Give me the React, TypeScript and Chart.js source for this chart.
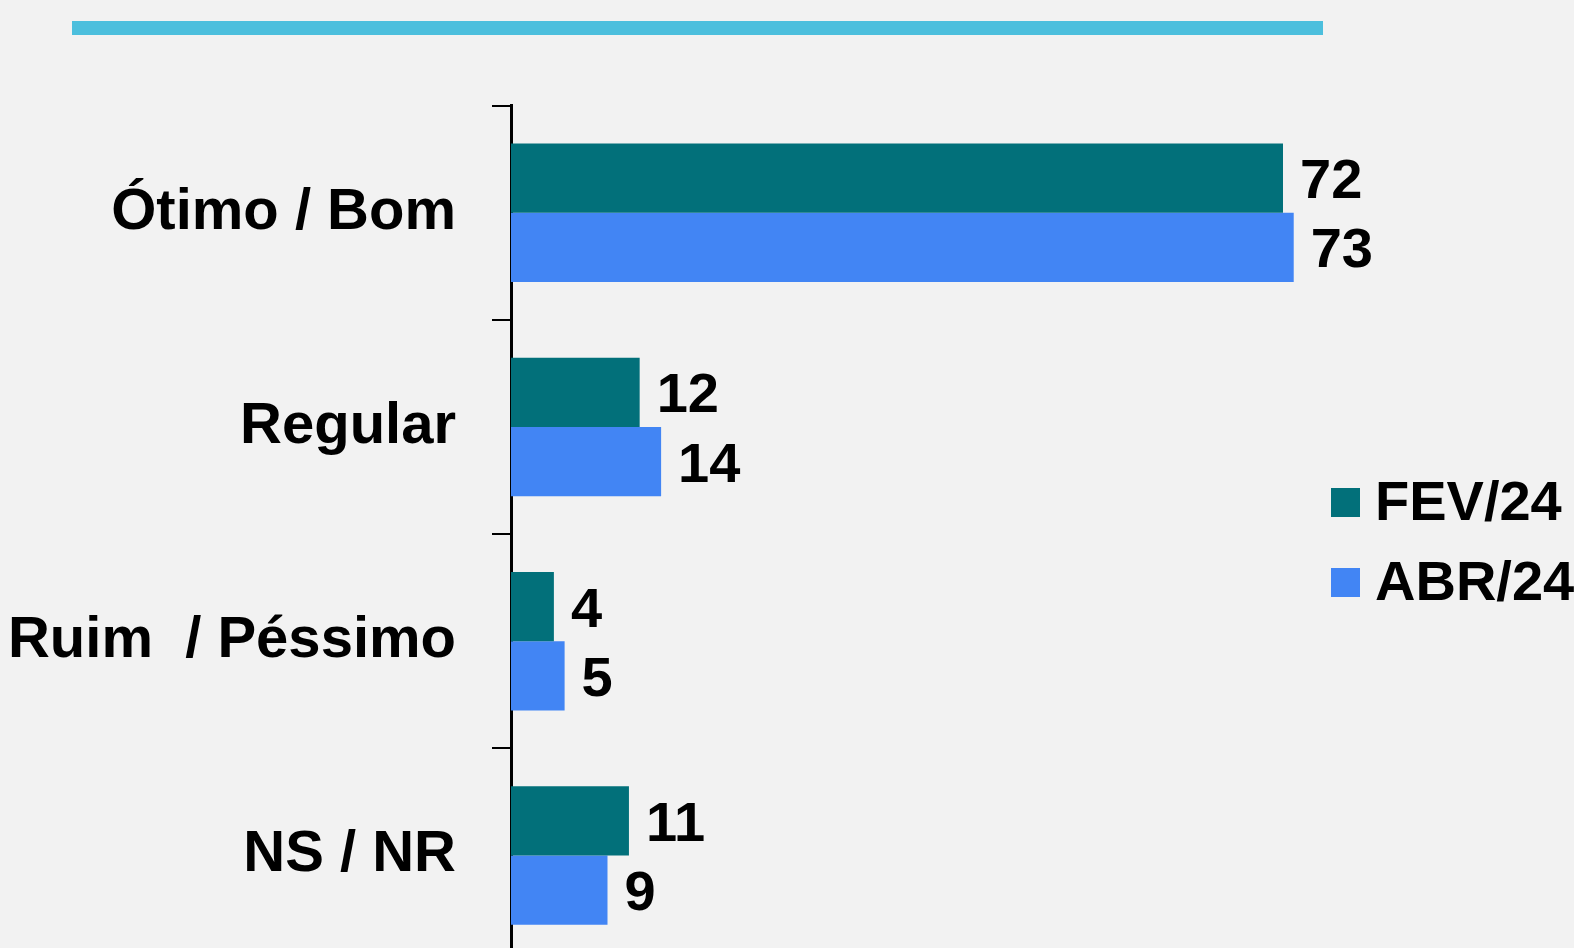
import React, { useEffect, useRef } from "react";
import { Chart, registerables } from "chart.js";
Chart.register(...registerables);

const categories = ["Ótimo / Bom", "Regular", "Ruim  / Péssimo", "NS / NR"];
const seriesNames = ["FEV/24", "ABR/24"];
const fevValues = [72, 12, 4, 11];
const abrValues = [73, 14, 5, 9];
const seriesColors = ["#02707a", "#4285f4"];

const FONT = "'Liberation Sans', Arial, Helvetica, sans-serif";
const CANVAS_W = 1574;
const CANVAS_H = 980;

const valueLabels = {
  id: "valueLabels",
  afterDatasetsDraw(chart: any) {
    const ctx = chart.ctx;
    ctx.save();
    ctx.font = `bold 56px ${FONT}`;
    ctx.fillStyle = "#000";
    ctx.textBaseline = "alphabetic";
    ctx.textAlign = "left";
    chart.data.datasets.forEach((ds: any, i: number) => {
      const meta = chart.getDatasetMeta(i);
      meta.data.forEach((el: any, j: number) => {
        ctx.fillText(String(ds.data[j]), el.x + 17, el.y + 20);
      });
    });
    ctx.restore();
  },
};

const customLegend = {
  id: "customLegend",
  afterDraw(chart: any) {
    const ctx = chart.ctx;
    ctx.save();
    ctx.font = `bold 56px ${FONT}`;
    ctx.textBaseline = "alphabetic";
    ctx.textAlign = "left";
    chart.data.datasets.forEach((ds: any, i: number) => {
      const top = 488 + i * 80;
      ctx.fillStyle = ds.backgroundColor;
      ctx.fillRect(1331, top, 29, 29);
      ctx.fillStyle = "#000";
      ctx.fillText(ds.label, 1375, top + 32);
    });
    ctx.restore();
  },
};

export default function App() {
  const ref = useRef<HTMLCanvasElement>(null);
  useEffect(() => {
    if (!ref.current) return;
    const chart = new Chart(ref.current, {
      type: "bar",
      data: {
        labels: categories,
        datasets: [
          {
            label: seriesNames[0],
            data: fevValues,
            backgroundColor: seriesColors[0],
            barPercentage: 1,
            categoryPercentage: 0.647,
          },
          {
            label: seriesNames[1],
            data: abrValues,
            backgroundColor: seriesColors[1],
            barPercentage: 1,
            categoryPercentage: 0.647,
          },
        ],
      },
      options: {
        indexAxis: "y",
        responsive: false,
        maintainAspectRatio: false,
        animation: false,
        layout: { padding: { top: 105.7, bottom: 17.4, left: 0, right: 98 } },
        plugins: { legend: { display: false }, tooltip: { enabled: false } },
        scales: {
          x: { display: false, min: 0, max: 90 },
          y: {
            position: "left",
            afterFit: (s: any) => {
              s.width = 511;
              s.paddingTop = 0;
              s.paddingBottom = 0;
            },
            grid: {
              display: true,
              drawOnChartArea: false,
              drawTicks: true,
              tickLength: 19,
              color: "#000",
              lineWidth: 2,
              offset: true,
            },
            border: { display: true, color: "#000", width: 3 },
            ticks: {
              color: "#000",
              padding: 36,
              labelOffset: 0,
              font: { family: FONT, size: 58, weight: "bold" },
            },
          },
        },
      },
      plugins: [valueLabels, customLegend],
    } as any);
    return () => chart.destroy();
  }, []);
  return (
    <div
      style={{
        position: "fixed",
        left: 0,
        top: 0,
        width: 1574,
        height: 948,
        overflow: "hidden",
        background: "#f2f2f2",
      }}
    >
      <div
        style={{
          position: "absolute",
          left: 72,
          top: 21,
          width: 1251,
          height: 14,
          background: "#4cbfdd",
          zIndex: 1,
        }}
      />
      <div
        style={{
          position: "absolute",
          left: 0,
          top: 0,
          width: CANVAS_W,
          height: CANVAS_H,
        }}
      >
        <canvas
          ref={ref}
          width={CANVAS_W}
          height={CANVAS_H}
          style={{ display: "block", width: CANVAS_W, height: CANVAS_H }}
        />
      </div>
    </div>
  );
}
